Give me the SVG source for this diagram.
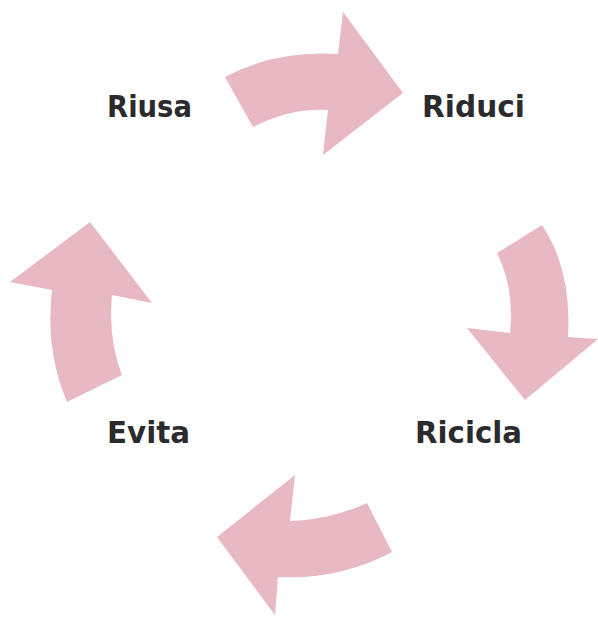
<svg xmlns="http://www.w3.org/2000/svg" width="598" height="617" viewBox="0 0 598 617">
<style>
.arr{fill:#e8b9c2;}
.lbl{font-family:"DejaVu Sans","Verdana",sans-serif;font-weight:bold;font-size:30px;fill:#2b2b2e;}
</style>
<rect width="598" height="617" fill="#ffffff"/>
<g id="connectors">
<path id="arrow-top" class="arr" d="M225,77 Q275,50 338,54 L343,12 L403,93 L323,155 L328,110 Q290,108 253,127 Z"/>
<path id="arrow-right" class="arr" d="M497,253 L542,225 Q572,270 568,337 L598,339 L525,400 L467,328 L510,333 Q515,290 497,253 Z"/>
<path id="arrow-bottom" class="arr" d="M295,475 L290,521 Q330,520 367,503 L392,552 Q340,580 278,577 L275,615 L217,537 Z"/>
<path id="arrow-left" class="arr" d="M90,222 L152,303 L112,295 Q108,340 122,375 L67,402 Q45,350 52,290 L10,282 Z"/>
</g>
<g id="node-riusa"><text class="lbl" x="107" y="117" textLength="85" lengthAdjust="spacingAndGlyphs">Riusa</text></g>
<g id="node-riduci"><text class="lbl" x="422" y="117" textLength="103" lengthAdjust="spacingAndGlyphs">Riduci</text></g>
<g id="node-evita"><text class="lbl" x="107" y="443" textLength="83" lengthAdjust="spacingAndGlyphs">Evita</text></g>
<g id="node-ricicla"><text class="lbl" x="415" y="443" textLength="107" lengthAdjust="spacingAndGlyphs">Ricicla</text></g>
</svg>
